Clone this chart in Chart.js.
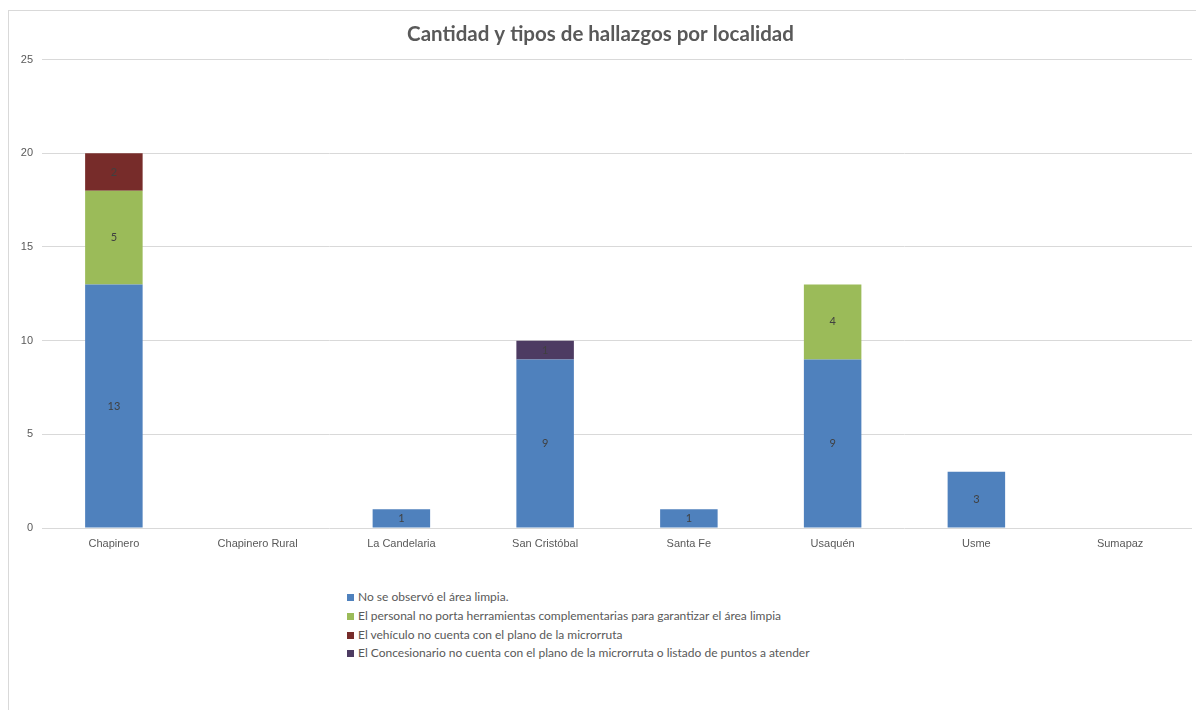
<!DOCTYPE html>
<html>
<head>
<meta charset="utf-8">
<script src="https://cdn.jsdelivr.net/npm/chart.js@4"></script>
<style>
    body { margin: 0; background: #fff; font-family: Lato, "Open Sans", sans-serif; }
    #frame { position: absolute; left: 8px; top: 10px; width: 1188px; height: 700px;
             border-left: 1px solid #d9d9d9; border-top: 1px solid #d9d9d9; box-sizing: border-box; }
    #wrap { position: absolute; left: 0; top: 0; width: 1187px; height: 560px; }
    #legend { position: absolute; left: 338px; top: 576px; font-size: 12px; color: #595959; }
    #legend div { height: 18.8px; line-height: 19px; white-space: nowrap; }
    #legend span { display: inline-block; width: 7px; height: 7px; margin-right: 4px; vertical-align: 0px; }
</style>
</head>
<body>
<div id="frame">
    <div id="wrap"><canvas id="chart"></canvas></div>
    <div id="legend"></div>
</div>
<script>
// localidades
const categories = ["Chapinero", "Chapinero Rural", "La Candelaria", "San Cristóbal", "Santa Fe", "Usaquén", "Usme", "Sumapaz"];

// hallazgos por tipo
const noAreaLimpia = [13, 0, 1, 9, 1, 9, 3, 0];
const sinHerramientas = [5, 0, 0, 0, 0, 4, 0, 0];
const vehiculoSinPlano = [2, 0, 0, 0, 0, 0, 0, 0];
const concesionarioSinPlano = [0, 0, 0, 1, 0, 0, 0, 0];

const seriesNames = [
    "No se observó el área limpia.",
    "El personal no porta herramientas complementarias para garantizar el área limpia",
    "El vehículo no cuenta con el plano de la microrruta",
    "El Concesionario no cuenta con el plano de la microrruta o listado de puntos a atender"
];
const seriesColors = ["#4F81BD", "#9BBB59", "#772C2A", "#4D3B62"];

const yTicks = [0, 5, 10, 15, 20, 25];

// etiquetas de valor dentro de cada segmento
const barLabels = {
    id: "barLabels",
    afterDatasetsDraw(chart) {
        const ctx = chart.ctx;
        ctx.save();
        ctx.font = "11px Lato, 'Open Sans', sans-serif";
        ctx.fillStyle = "#404040";
        ctx.textAlign = "center";
        ctx.textBaseline = "middle";
        chart.data.datasets.forEach((ds, i) => {
            const meta = chart.getDatasetMeta(i);
            meta.data.forEach((bar, j) => {
                const v = ds.data[j];
                if (!v) return;
                ctx.fillText(v, bar.x, (bar.y + bar.base) / 2);
            });
        });
        ctx.restore();
    }
};

const allSeries = [noAreaLimpia, sinHerramientas, vehiculoSinPlano, concesionarioSinPlano];

const chart = new Chart(document.getElementById("chart"), {
    type: "bar",
    data: {
        labels: categories,
        datasets: allSeries.map((d, i) => ({
            label: seriesNames[i],
            data: d,
            backgroundColor: seriesColors[i],
            categoryPercentage: 1,
            barPercentage: 0.4
        }))
    },
    options: {
        responsive: true,
        maintainAspectRatio: false,
        animation: false,
        layout: { padding: { left: 0, right: 4, top: 0, bottom: 0 } },
        plugins: {
            legend: { display: false },
            tooltip: { enabled: false },
            title: {
                display: true,
                text: "Cantidad y tipos de hallazgos por localidad",
                color: "#595959",
                font: { size: 20.5, weight: "bold", family: "Lato, 'Open Sans', sans-serif" },
                padding: { top: 11, bottom: 13 }
            }
        },
        scales: {
            x: {
                stacked: true,
                grid: { display: false, drawTicks: false },
                border: { display: false },
                ticks: { color: "#595959", font: { size: 11 }, padding: 9 },
                afterFit: s => { s.height = 43; }
            },
            y: {
                stacked: true,
                min: 0,
                max: 25,
                afterBuildTicks: s => { s.ticks = yTicks.map(v => ({ value: v })); },
                grid: { color: "#d9d9d9", drawTicks: false },
                border: { display: false },
                ticks: { color: "#595959", font: { size: 11 }, padding: 9 },
                afterFit: s => { s.width = 33; }
            }
        }
    },
    plugins: [barLabels]
});

// leyenda vertical
const legendBox = document.getElementById("legend");
chart.data.datasets.forEach(ds => {
    const row = document.createElement("div");
    const sw = document.createElement("span");
    sw.style.background = ds.backgroundColor;
    row.appendChild(sw);
    row.appendChild(document.createTextNode(ds.label));
    legendBox.appendChild(row);
});
</script>
</body>
</html>
